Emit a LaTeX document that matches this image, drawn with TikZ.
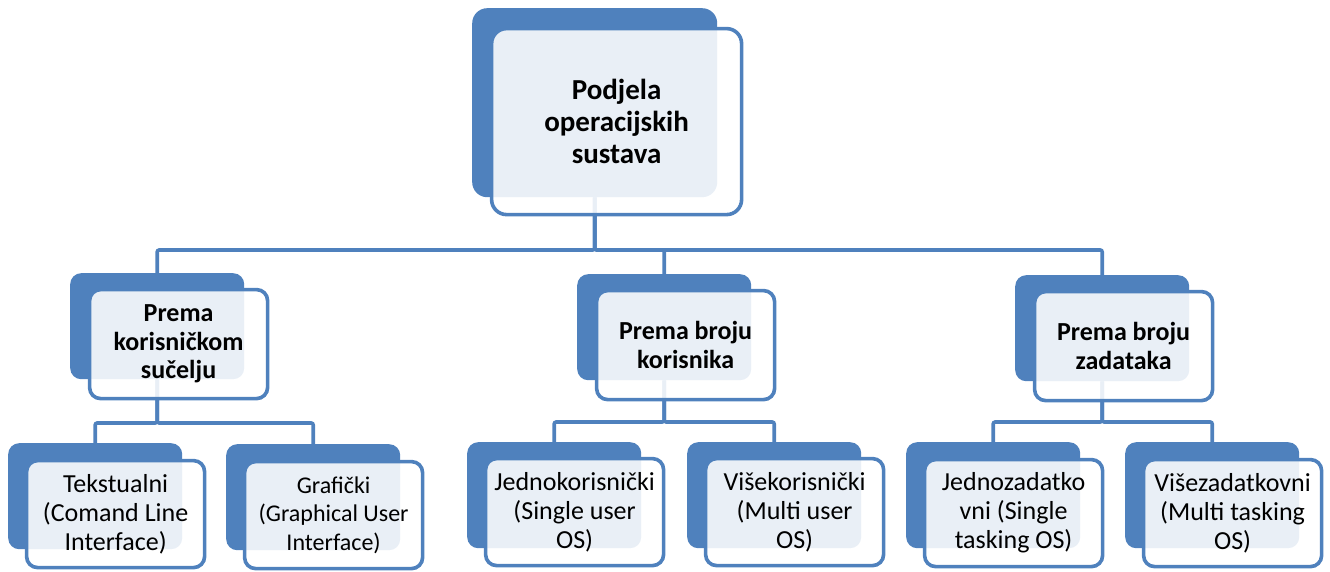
\documentclass[tikz,border=0pt]{standalone}
\usepackage{fontspec}
\setmainfont{Carlito}
\definecolor{ofblue}{HTML}{4F81BD}
\tikzset{
  backbox/.style={rectangle, rounded corners=11pt, fill=ofblue, inner sep=0pt,
    anchor=north west, minimum width=174pt, minimum height=106pt},
  frontbox/.style={rectangle, rounded corners=11pt, draw=ofblue, line width=3.6pt,
    fill=white, fill opacity=0.88, draw opacity=1, text opacity=1, text=black, inner sep=0pt,
    anchor=north west, align=center, minimum width=178pt, minimum height=109pt},
  conn/.style={draw=ofblue, line width=3.6pt, rounded corners=2pt},
  rootfont/.style={font=\bfseries\fontsize{29}{32}\selectfont},
  midfont/.style={font=\bfseries\fontsize{26}{28.5}\selectfont},
  leaffont/.style={font=\fontsize{26}{29}\selectfont},
  smallleaf/.style={font=\fontsize{24}{28.5}\selectfont},
}
\begin{document}
\begin{tikzpicture}[x=1pt, y=-1pt]
\useasboundingbox (0,0) rectangle (1330,572);

% back (shadow) boxes
\node[backbox, rounded corners=15pt, minimum width=245pt, minimum height=189pt] (rootb) at (472,8) {};
\node[backbox] (m1b) at (70,273) {};
\node[backbox] (m2b) at (577,274) {};
\node[backbox] (m3b) at (1015,275) {};
\node[backbox] (l1b) at (8,443) {};
\node[backbox] (l2b) at (226,444) {};
\node[backbox] (l3b) at (467,442) {};
\node[backbox] (l4b) at (687,442) {};
\node[backbox] (l5b) at (906,442) {};
\node[backbox] (l6b) at (1125,442) {};

% horizontal bus levels
\coordinate (busroot) at (0,250);
\coordinate (busm1) at (0,423);
\coordinate (busm2) at (0,422);
\coordinate (busm3) at (0,422);

% connectors
\foreach \c in {m1b,m2b,m3b}
  \draw[conn] (rootb.south) -- (rootb.south |- busroot) -| (\c.north);
\foreach \c in {l1b,l2b}
  \draw[conn] (m1b.south) -- (m1b.south |- busm1) -| (\c.north);
\foreach \c in {l3b,l4b}
  \draw[conn] (m2b.south) -- (m2b.south |- busm2) -| (\c.north);
\foreach \c in {l5b,l6b}
  \draw[conn] (m3b.south) -- (m3b.south |- busm3) -| (\c.north);

% front boxes with the labels
\node[frontbox, rootfont, rounded corners=15pt, minimum width=250pt, minimum height=186pt] (root) at (489.8,26.8)
  {Podjela\\operacijskih\\sustava};
\node[frontbox, midfont] (m1) at (87.8,287.8) {Prema\\korisničkom\\sučelju};
\node[frontbox, midfont] (m2) at (594.8,288.8) {Prema broju\\korisnika};
\node[frontbox, midfont] (m3) at (1032.8,289.8) {Prema broju\\zadataka};

\node[frontbox, leaffont, minimum height=107pt] (l1) at (24.8,458.8) {Tekstualni\\(Comand Line\\Interface)};
\node[frontbox, smallleaf, minimum height=107pt] (l2) at (242.8,459.8) {Grafički\\(Graphical User\\Interface)};
\node[frontbox, leaffont, minimum height=107pt] (l3) at (483.8,456.8) {Jednokorisnički\\(Single user\\OS)};
\node[frontbox, leaffont, minimum height=107pt] (l4) at (703.8,456.8) {Višekorisnički\\(Multi user\\OS)};
\node[frontbox, leaffont, minimum height=107pt] (l5) at (922.8,457.8) {Jednozadatko\\vni (Single\\tasking OS)};
\node[frontbox, leaffont, minimum height=107pt] (l6) at (1141.8,457.8) {Višezadatkovni\\(Multi tasking\\OS)};
\end{tikzpicture}
\end{document}
